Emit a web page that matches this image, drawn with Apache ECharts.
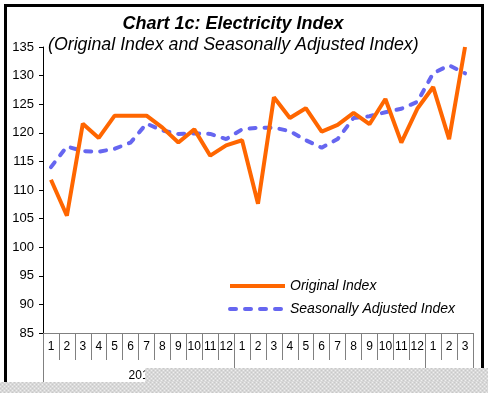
<!DOCTYPE html>
<html>
<head>
<meta charset="utf-8">
<script src="https://cdn.jsdelivr.net/npm/echarts@6/dist/echarts.min.js"></script>
<style>
html,body{margin:0;padding:0;background:#fff;}
#c{width:488px;height:393px;}
</style>
</head>
<body>
<div id="c"></div>
<script>
var months = ['1','2','3','4','5','6','7','8','9','10','11','12','1','2','3','4','5','6','7','8','9','10','11','12','1','2','3'];
var yearLabel = '201';
var original = [111.8, 105.5, 121.6, 119.1, 123.0, 123.0, 123.0, 120.9, 118.3, 120.6, 116.0, 117.8, 118.7, 107.6, 126.2, 122.6, 124.3, 120.2, 121.4, 123.5, 121.5, 125.9, 118.3, 124.2, 128.0, 118.9, 135.0];
var seasonal = [114.0, 117.6, 116.8, 116.7, 117.2, 118.3, 121.6, 120.4, 119.8, 119.9, 119.8, 118.9, 120.6, 120.9, 120.9, 120.3, 118.7, 117.4, 118.9, 122.6, 122.9, 123.6, 124.2, 125.4, 130.4, 131.8, 130.4];
var yearBounds = [0, 12, 24, 27];

var FONT = 'Liberation Sans, Arial, sans-serif';

// dotted gray pattern for the bottom overlay
var pc = document.createElement('canvas');
pc.width = 4; pc.height = 4;
var px = pc.getContext('2d');
px.fillStyle = '#d8d8d8'; px.fillRect(0,0,4,4);
px.fillStyle = '#eeeeee'; px.fillRect(0,0,1,1); px.fillRect(2,2,1,1);
px.fillStyle = '#c8c8c8'; px.fillRect(2,0,1,1); px.fillRect(0,2,1,1);

var chart = echarts.init(document.getElementById('c'), null, {renderer:'canvas'});
chart.setOption({
  animation: false,
  backgroundColor: '#fff',
  title: [{
    text: 'Chart 1c: Electricity Index',
    left: 228, top: 10, textAlign: 'center',
    textStyle: {fontFamily: FONT, fontSize: 18, fontWeight: 'bold', fontStyle: 'italic', color: '#000'}
  },{
    text: '(Original Index and Seasonally Adjusted Index)',
    left: 43, top: 31,
    textStyle: {fontFamily: FONT, fontSize: 17.8, fontWeight: 'normal', fontStyle: 'italic', color: '#000'}
  }],
  grid: {left: 43, right: 15, top: 47, bottom: 60, containLabel: false},
  legend: {
    orient: 'vertical', left: 228, top: 279, padding: 0,
    itemWidth: 55, itemHeight: 14, itemGap: 9,
    itemStyle: {color: 'transparent', borderWidth: 0, opacity: 0},
    lineStyle: {width: 4},
    textStyle: {fontFamily: FONT, fontSize: 14, fontStyle: 'italic', color: '#000'},
    data: ['Original Index', 'Seasonally Adjusted Index']
  },
  xAxis: [{
    type: 'category', data: months, boundaryGap: true,
    axisLine: {lineStyle: {color: '#808080', width: 1}},
    axisTick: {show: true, length: 27, interval: 0, lineStyle: {color: '#808080'}},
    axisLabel: {interval: 0, margin: 8, fontFamily: FONT, fontSize: 12, color: '#000'}
  },{
    type: 'value', min: 0, max: 27, position: 'bottom',
    axisLine: {show: false},
    splitLine: {show: false},
    axisTick: {show: true, length: 50, customValues: yearBounds, lineStyle: {color: '#808080'}},
    axisLabel: {show: true, customValues: [6], margin: 37, fontFamily: FONT, fontSize: 12, color: '#000',
      formatter: function(){ return yearLabel; }}
  }],
  yAxis: {
    type: 'value', min: 85, max: 135, interval: 5,
    axisLine: {show: true, lineStyle: {color: '#000', width: 1}},
    axisTick: {show: true, length: 4, lineStyle: {color: '#000'}},
    splitLine: {show: false},
    axisLabel: {margin: 9, fontFamily: FONT, fontSize: 13, color: '#000'}
  },
  series: [{
    name: 'Original Index', type: 'line', data: original, xAxisIndex: 0,
    symbol: 'none', smooth: false,
    lineStyle: {color: '#FF6600', width: 4},
    itemStyle: {color: '#FF6600'}, z: 3
  },{
    name: 'Seasonally Adjusted Index', type: 'line', data: seasonal, xAxisIndex: 0,
    symbol: 'none', smooth: false,
    lineStyle: {color: '#6666F0', width: 4, type: [6, 9], cap: 'round'},
    itemStyle: {color: '#6666F0'}, z: 2
  }],
  graphic: [{
    type: 'rect', left: 3, top: 3, z: 50, silent: true,
    shape: {width: 477, height: 420},
    style: {fill: 'none', stroke: '#000', lineWidth: 3}
  },{
    type: 'rect', left: 145, top: 368, z: 100, silent: true,
    shape: {width: 343, height: 25},
    style: {fill: {image: pc, repeat: 'repeat'}}
  },{
    type: 'rect', left: 0, top: 382, z: 100, silent: true,
    shape: {width: 488, height: 11},
    style: {fill: {image: pc, repeat: 'repeat'}}
  }]
});
</script>
</body>
</html>
